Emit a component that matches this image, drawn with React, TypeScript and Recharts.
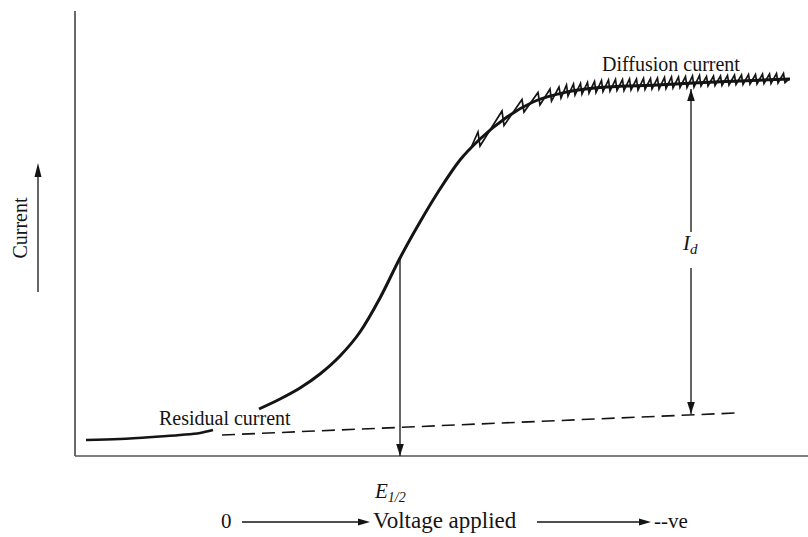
import React from 'react';
import { LineChart, Line, XAxis, YAxis, ReferenceLine } from 'recharts';

// Units: x = applied voltage (arbitrary units), y = current (arbitrary units)
const residualX = [2.2, 9, 15.6, 21, 25, 27.6];
const residualY = [3.2, 3.4, 3.8, 4.2, 4.6, 5.2];

const baselineX = [29.4, 132];
const baselineY = [4.2, 8.6];

const waveX = [36.8, 41, 45, 49, 53, 57, 61, 65, 69, 73, 77, 81, 86.4, 91.6, 98.4, 106.4, 116.4, 123.6, 133, 143];
const waveY = [9.4, 11.4, 13.6, 16.4, 20, 24.8, 31.6, 39.6, 46.8, 53.4, 59.2, 63.4, 67.8, 70.8, 72.8, 73.8, 74.2, 74.6, 75, 75.4];

const sawX = [79, 80.6, 81, 85.4, 85.8, 89.4, 89.8, 92.6, 93, 95, 95.3, 96.8, 97.2,
  98.3, 98.6, 99.7, 100, 101.1, 101.4, 102.5, 102.8, 103.9, 104.2, 105.3, 105.6, 106.7, 107,
  108.1, 108.4, 109.5, 109.8, 110.9, 111.2, 112.3, 112.6, 113.7, 114, 115.1, 115.4, 116.5, 116.8,
  117.9, 118.2, 119.3, 119.6, 120.7, 121, 122.1, 122.4, 123.5, 123.8, 124.9, 125.2, 126.3, 126.6,
  127.7, 128, 129.1, 129.4, 130.5, 130.8, 131.9, 132.2, 133.3, 133.6, 134.7, 135, 136.1, 136.4,
  137.5, 137.8, 138.9, 139.2, 140.3, 140.6, 141.7, 142, 142.8];
const sawY = [61.2, 64.8, 62, 69.0, 66.1, 71.3, 68.8, 72.7, 70.2, 73.4, 71.0, 73.8, 71.6,
  74.2, 72.0, 74.4, 72.2, 74.5, 72.4, 74.7, 72.6, 74.9, 72.7, 75.1, 72.9, 75.2, 73.0,
  75.3, 73.1, 75.3, 73.1, 75.4, 73.2, 75.4, 73.2, 75.5, 73.3, 75.5, 73.4, 75.6, 73.4,
  75.7, 73.5, 75.8, 73.6, 75.8, 73.7, 75.9, 73.7, 76.0, 73.8, 76.1, 74.0, 75.9, 74.0,
  76.0, 74.1, 76.0, 74.1, 76.1, 74.2, 76.2, 74.3, 76.2, 74.3, 76.3, 74.4, 76.3, 74.4,
  76.4, 74.5, 76.4, 74.5, 76.5, 74.6, 76.5, 74.7, 75.4];

const halfWaveX = [65, 65];
const halfWaveY = [39.6, 0];
const idX = [123.2, 123.2];
const idUpperY = [44.8, 73.4];
const idLowerY = [37.6, 8.4];

const zip = (xs: number[], ys: number[]) => xs.map((x, i) => ({ x, y: ys[i] }));

const residual = zip(residualX, residualY);
const baseline = zip(baselineX, baselineY);
const wave = zip(waveX, waveY);
const saw = zip(sawX, sawY);
const halfWave = zip(halfWaveX, halfWaveY);
const idUpper = zip(idX, idUpperY);
const idLower = zip(idX, idLowerY);

const INK = '#141414';
const FONT = '"Liberation Serif", "Times New Roman", serif';

const arrowDot = (dir: 'up' | 'down') => (props: any) => {
  const { cx, cy, index } = props;
  if (index !== 1 || cx == null || cy == null) return <g key={`d${index}`} />;
  const s = dir === 'down' ? -1 : 1;
  const pts = `${cx},${cy} ${cx - 3.8},${cy + s * 12} ${cx + 3.8},${cy + s * 12}`;
  return <polygon key={`d${index}`} points={pts} fill={INK} stroke="none" />;
};

export default function App() {
  return (
    <div style={{ position: 'absolute', left: 0, top: 0, width: 808, height: 537, background: '#fff' }}>
      <LineChart width={808} height={537} margin={{ top: 11, right: 0, bottom: 81, left: 75 }}>
        <XAxis type="number" dataKey="x" domain={[0, 146.6]} hide allowDataOverflow />
        <YAxis type="number" dataKey="y" domain={[0, 89]} hide allowDataOverflow />
        <ReferenceLine x={0} stroke="#444" strokeWidth={1.6} ifOverflow="visible" />
        <ReferenceLine y={0} stroke="#555" strokeWidth={1.6} ifOverflow="visible" />
        <Line data={residual} dataKey="y" type="monotone" stroke={INK} strokeWidth={2.6} dot={false} isAnimationActive={false} />
        <Line data={baseline} dataKey="y" type="linear" stroke={INK} strokeWidth={1.6} strokeDasharray="13 7" dot={false} isAnimationActive={false} />
        <Line data={wave} dataKey="y" type="monotone" stroke={INK} strokeWidth={3} dot={false} isAnimationActive={false} />
        <Line data={saw} dataKey="y" type="linear" stroke={INK} strokeWidth={1.7} dot={false} isAnimationActive={false} />
        <Line data={halfWave} dataKey="y" type="linear" stroke={INK} strokeWidth={1.3} dot={arrowDot('down')} isAnimationActive={false} />
        <Line data={idUpper} dataKey="y" type="linear" stroke={INK} strokeWidth={1.3} dot={arrowDot('up')} isAnimationActive={false} />
        <Line data={idLower} dataKey="y" type="linear" stroke={INK} strokeWidth={1.3} dot={arrowDot('down')} isAnimationActive={false} />
      </LineChart>
      <svg width={808} height={537} style={{ position: 'absolute', left: 0, top: 0, pointerEvents: 'none' }}>
        <g fontFamily={FONT} fill={INK}>
          <text x={602} y={71} fontSize={20}>Diffusion current</text>
          <text x={159} y={425} fontSize={20}>Residual current</text>
          <text transform="translate(27,228) rotate(-90)" textAnchor="middle" fontSize={20}>Current</text>
          <text x={683} y={250} fontSize={21} fontStyle="italic">I<tspan fontSize={15} dy={4}>d</tspan></text>
          <text x={375} y={498} fontSize={21} fontStyle="italic">E<tspan fontSize={14} dy={4}>1/2</tspan></text>
          <text x={221} y={528} fontSize={21}>0</text>
          <text x={373} y={528} fontSize={23}>Voltage applied</text>
          <text x={654} y={528} fontSize={21}>--ve</text>
        </g>
        <g stroke={INK} strokeWidth={1.3}>
          <line x1={38} y1={292} x2={38} y2={172} />
          <line x1={242} y1={522} x2={362} y2={522} />
          <line x1={537} y1={522} x2={643} y2={522} />
        </g>
        <g fill={INK}>
          <polygon points="38,163 34.5,177 41.5,177" />
          <polygon points="370,522 358,518.5 358,525.5" />
          <polygon points="651,522 639,518.5 639,525.5" />
        </g>
      </svg>
    </div>
  );
}
